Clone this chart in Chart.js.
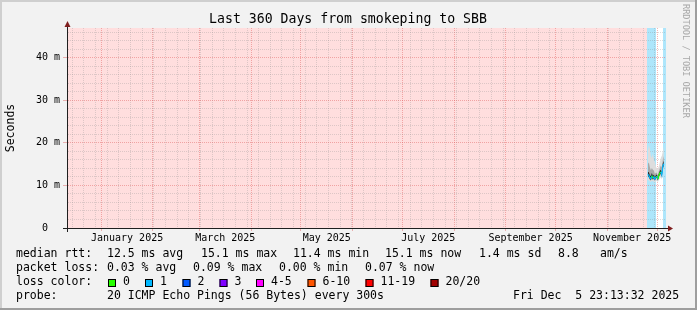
<!DOCTYPE html>
<html><head><meta charset="utf-8">
<script src="https://cdn.jsdelivr.net/npm/chart.js@4.4.1/dist/chart.umd.min.js"></script>
<style>html,body{margin:0;padding:0;background:#f2f2f2;}canvas{display:block}</style>
</head><body>
<canvas id="c" width="697" height="310"></canvas>
<script>
// ---- data (x in days relative to 1 Jan 2025) ----
const xMin = -20.6, xMax = 339.4;
const days     = [328.5,329.1,329.7,330.3,330.9,331.5,332.1,332.7,333.3,333.9,334.5,335.1,335.7,336.3,336.9,337.5,338.1];
const median   = [12.6,12.4,11.8,11.6,12.3,11.7,12.0,11.5,12.0,12.2,11.5,12.4,12.9,13.2,12.4,14.6,15.1];
const smokeMin = [11.3,11.2,10.9,10.8,11.1,10.9,11.0,10.7,11.0,11.1,10.8,11.3,11.6,11.9,11.4,13.0,13.6];
const smokeMax = [18.0,19.5,18.5,17.0,16.5,17.5,16.0,15.5,14.5,14.0,14.0,14.5,15.5,16.5,17.0,18.0,19.0];
const q1       = [12.0,11.8,11.3,11.1,11.7,11.2,11.5,11.0,11.5,11.7,11.0,11.9,12.3,12.6,11.9,13.9,14.4];
const q3       = [15.1,15.4,14.3,13.6,14.1,13.7,13.5,12.7,13.0,13.0,12.3,13.4,14.1,14.7,14.2,16.1,16.9];
const innerLo  = [12.2,12.0,11.5,11.3,11.9,11.4,11.7,11.2,11.7,11.9,11.2,12.1,12.5,12.8,12.1,14.1,14.6];
const innerHi  = [13.2,13.1,12.4,12.2,12.9,12.3,12.5,12.0,12.4,12.6,11.9,12.8,13.4,13.7,12.9,15.2,15.8];
const loss     = [1,1,1,1,0,1,1,1,0,1,0,0,0,1,1,1,1];

const bandStart = [-20.6, 328.1, 333.65, 337.55];
const bandEnd   = [328.1, 333.65, 337.55, 339.4];
const bandColor = ['#ffdede', '#aee6fb', '#ffffff', '#aee6fb'];

const monthStarts   = [0,31,59,90,120,151,181,212,243,273,304,334];
const monthLabelPos = [15.5,74.5,135.5,196.5,258,319];
const monthLabels   = ['January 2025','March 2025','May 2025','July 2025','September 2025','November 2025'];
const weekFirst = -17.4;
const yMajor = [0,10,20,30,40];
const yMax = 47;

const lossColors = ['#26ff00','#00b8ff','#0059ff','#7e00ff','#ff00ff','#ff5500','#ff0000','#a10000'];
const lossLabels = ['0','1','2','3','4-5','6-10','11-19','20/20'];

const title = 'Last 360 Days from smokeping to SBB';
const row1 = ['median rtt:','12.5 ms avg','15.1 ms max','11.4 ms min','15.1 ms now','1.4 ms sd','8.8','am/s'];
const row2 = ['packet loss:','0.03 % avg','0.09 % max','0.00 % min','0.07 % now'];
const row4 = ['probe:','20 ICMP Echo Pings (56 Bytes) every 300s','Fri Dec  5 23:13:32 2025'];

// ---- layout constants ----
const MONO = "'DejaVu Sans Mono', monospace";
const row1X = [16,107,201,293,385,479,558,600];
const row2X = [16,107,193,279,365];
const row4X = [16,107,513];
const boxX  = [108,145,182.5,219.5,256,307.5,365.5,430.5];
const GRID = 'rgba(143,143,143,0.30)';
const MGRID = 'rgba(222,80,80,0.42)';

function lossBucket(n){ if(n<=0)return 0; if(n===1)return 1; if(n===2)return 2; if(n===3)return 3; if(n<=5)return 4; if(n<=10)return 5; if(n<=19)return 6; return 7; }
const pts = arr => arr.map((v,i)=>({x:days[i], y:v}));

const xTicks = [];
for (let w = weekFirst; w < xMax; w += 7) xTicks.push({value:w, kind:'minor'});
monthStarts.forEach(m => xTicks.push({value:m, kind:'major'}));
monthLabelPos.forEach((m,i) => xTicks.push({value:m, kind:'label', text:monthLabels[i]}));
xTicks.sort((a,b)=>a.value-b.value);

const yTicks = [];
for (let v = 0; v < yMax; v += 2) yTicks.push({value:v, kind: yMajor.includes(v) ? 'major' : 'minor'});

const paintPlugin = {
  id:'paint',
  beforeDraw(chart){
    const ctx = chart.ctx, W = chart.width, H = chart.height, ca = chart.chartArea, xs = chart.scales.x;
    ctx.save();
    ctx.fillStyle = '#f2f2f2'; ctx.fillRect(0,0,W,H);
    ctx.fillStyle = '#cfcfcf'; ctx.fillRect(0,0,W,2); ctx.fillRect(0,0,2,H);
    ctx.fillStyle = '#9e9e9e'; ctx.fillRect(0,H-2,W,2); ctx.fillRect(W-2,0,2,H);
    for (let i=0;i<bandStart.length;i++){
      const a = Math.round(xs.getPixelForValue(bandStart[i])), b = Math.round(xs.getPixelForValue(bandEnd[i]));
      ctx.fillStyle = bandColor[i];
      ctx.fillRect(a, ca.top, b-a, ca.bottom-ca.top);
    }
    ctx.restore();
  },
  afterDraw(chart){
    const ctx = chart.ctx, ca = chart.chartArea;
    ctx.save();
    ctx.strokeStyle = '#1f1f1f'; ctx.lineWidth = 1;
    ctx.beginPath();
    ctx.moveTo(ca.left-4, ca.bottom+0.5); ctx.lineTo(ca.right+2, ca.bottom+0.5);
    ctx.moveTo(ca.left+0.5, ca.bottom+4); ctx.lineTo(ca.left+0.5, ca.top-2);
    ctx.stroke();
    ctx.fillStyle = '#801f1f';
    ctx.beginPath();
    ctx.moveTo(ca.right+2, ca.bottom-2.5); ctx.lineTo(ca.right+2, ca.bottom+3.5); ctx.lineTo(ca.right+7, ca.bottom+0.5); ctx.closePath(); ctx.fill();
    ctx.beginPath();
    ctx.moveTo(ca.left-2.5, ca.top-1); ctx.lineTo(ca.left+3.5, ca.top-1); ctx.lineTo(ca.left+0.5, ca.top-7); ctx.closePath(); ctx.fill();

    ctx.fillStyle = '#000';
    ctx.textBaseline = 'middle';
    ctx.font = '13.2px ' + MONO; ctx.textAlign = 'center';
    ctx.fillText(title, 348, 19.5);
    ctx.font = '11.5px ' + MONO;
    ctx.save(); ctx.translate(11, 128); ctx.rotate(-Math.PI/2); ctx.fillText('Seconds', 0, 0); ctx.restore();
    ctx.save(); ctx.fillStyle = '#a8a8a8'; ctx.font = '8.6px ' + MONO; ctx.textAlign = 'left';
    ctx.translate(685, 4); ctx.rotate(Math.PI/2); ctx.fillText('RRDTOOL / TOBI OETIKER', 0, 0); ctx.restore();
    ctx.textAlign = 'left'; ctx.font = '11.5px ' + MONO;
    row1.forEach((t,i)=>ctx.fillText(t, row1X[i], 254.5));
    row2.forEach((t,i)=>ctx.fillText(t, row2X[i], 268.5));
    ctx.fillText('loss color:', 16, 282.5);
    lossLabels.forEach((t,i)=>{
      ctx.fillStyle = lossColors[i]; ctx.fillRect(boxX[i], 279, 8, 8);
      ctx.strokeStyle = '#000'; ctx.lineWidth = 1; ctx.strokeRect(boxX[i]+0.5, 279.5, 7, 7);
      ctx.fillStyle = '#000'; ctx.fillText(t, boxX[i]+15, 282.5);
    });
    row4.forEach((t,i)=>ctx.fillText(t, row4X[i], 296.5));
    ctx.restore();
  }
};

const band = (data, extra) => Object.assign({data:pts(data), borderWidth:0, pointRadius:0, fill:false}, extra);

new Chart(document.getElementById('c'), {
  type:'line',
  data:{datasets:[
    band(smokeMin, {order:7}),
    band(smokeMax, {order:6, fill:'-1', backgroundColor:'#dddddd'}),
    band(q1, {order:5}),
    band(q3, {order:4, fill:'-1', backgroundColor:'#a8a8a8'}),
    band(innerLo, {order:3}),
    band(innerHi, {order:2, fill:'-1', backgroundColor:'#262626'}),
    {data:pts(median), order:1, pointRadius:0, borderWidth:1.2, fill:false,
     borderColor:lossColors[0],
     segment:{borderColor: c => lossColors[lossBucket(loss[c.p0DataIndex])]}}
  ]},
  options:{
    responsive:false, animation:false, devicePixelRatio:1,
    layout:{padding:{left:0, top:28, right:31, bottom:0}},
    plugins:{legend:{display:false}, tooltip:{enabled:false}, title:{display:false}},
    scales:{
      x:{
        type:'linear', min:xMin, max:xMax,
        afterBuildTicks: s => { s.ticks = xTicks.map(t=>Object.assign({}, t)); },
        afterFit: s => { s.height = 82; },
        ticks:{autoSkip:false, maxRotation:0, minRotation:0, padding:1, color:'#000',
          font:{family:"'DejaVu Sans Mono'", size:10},
          callback:(v,i,ticks)=> ticks[i].kind==='label' ? ticks[i].text : ''},
        grid:{
          lineWidth:1, tickLength:3,
          color: c => c.tick ? (c.tick.kind==='major' ? MGRID : c.tick.kind==='minor' ? GRID : 'rgba(0,0,0,0)') : GRID,
          tickColor: c => (c.tick && c.tick.kind==='major') ? MGRID : 'rgba(0,0,0,0)'
        },
        border:{display:true, color:'#1f1f1f', width:1, dash:[1,1]}
      },
      y:{
        min:0, max:yMax,
        afterBuildTicks: s => { s.ticks = yTicks.map(t=>Object.assign({}, t)); },
        afterFit: s => { s.width = 67; },
        ticks:{autoSkip:false, padding:3, color:'#000',
          font:{family:"'DejaVu Sans Mono'", size:10},
          callback:(v,i,ticks)=> ticks[i].kind==='major' ? (v===0 ? '0  ' : v + ' m') : ''},
        grid:{
          lineWidth:1, tickLength:4,
          color: c => c.tick ? (c.tick.value===0 ? 'rgba(0,0,0,0)' : c.tick.kind==='major' ? MGRID : GRID) : GRID,
          tickColor: c => (c.tick && c.tick.kind==='major') ? (c.tick.value===0 ? '#1f1f1f' : MGRID) : 'rgba(0,0,0,0)'
        },
        border:{display:true, color:'#1f1f1f', width:1, dash:[1,1]}
      }
    }
  },
  plugins:[paintPlugin]
});
</script>
</body></html>
